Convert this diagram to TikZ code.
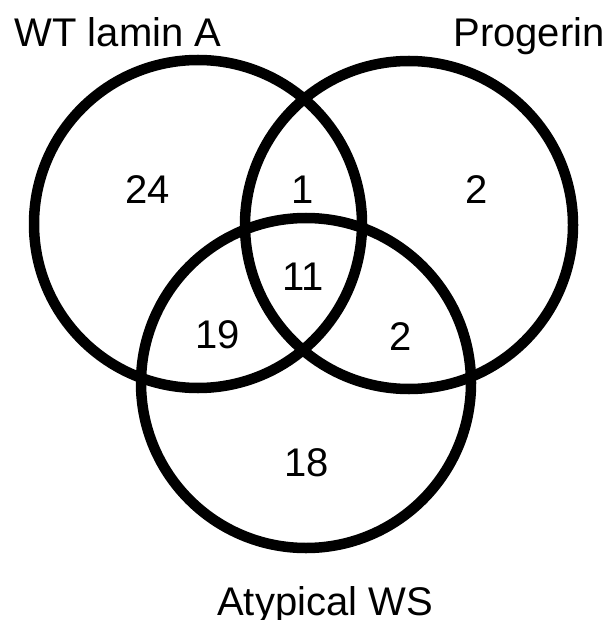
\documentclass[tikz,border=0pt]{standalone}
\usepackage{fontspec}
\setmainfont{Liberation Sans}
\begin{document}
\begin{tikzpicture}[x=1pt,y=-1pt,
  ring/.style={draw=black,line width=10.5pt},
  lbl/.style={inner sep=0pt,font=\fontsize{40}{48}\selectfont},
  num/.style={inner sep=0pt,anchor=center,font=\fontsize{40}{48}\selectfont}]
\useasboundingbox (0,0) rectangle (609,620);
\draw[ring] (198,224) circle[radius=164];
\draw[ring] (409,225) circle[radius=164];
\draw[ring] (306,383) circle[radius=165];
\node[lbl,anchor=base] (wt) at (118,47) {WT lamin A};
\node[lbl,anchor=base] (pg) at (529,47) {Progerin};
\node[lbl,anchor=base] (ws) at (325,615) {Atypical WS};
\node[num] (n24) at (148,190) {24};
\node[num] (n1) at (303,190) {1};
\node[num] (n2a) at (477,190) {2};
\node[num] (n11) at (303,277) {11};
\node[num] (n19) at (218,335) {19};
\node[num] (n2b) at (401,337) {2};
\node[num] (n18) at (307,463) {18};
\end{tikzpicture}
\end{document}
